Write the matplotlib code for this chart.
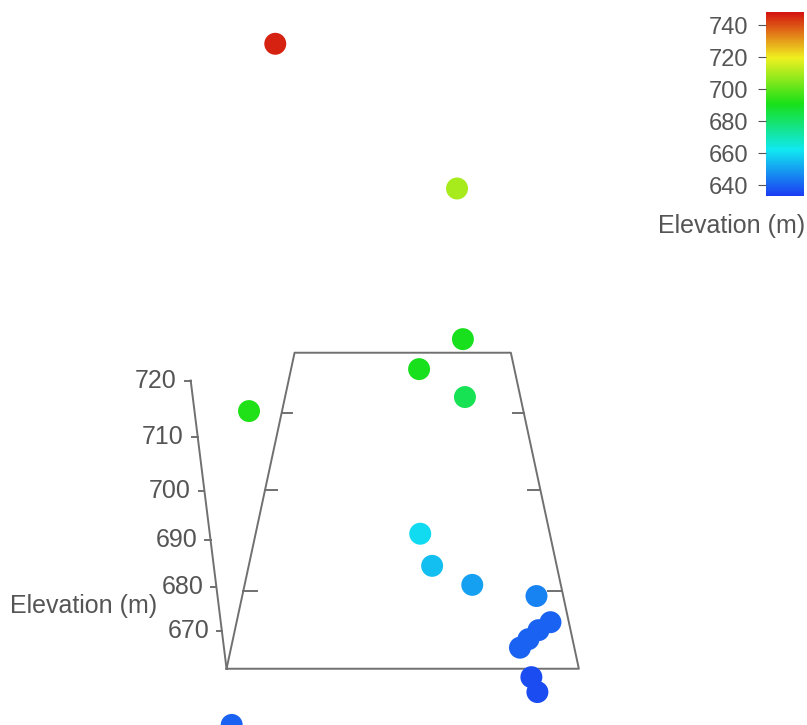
import matplotlib
matplotlib.use("Agg")
import matplotlib.pyplot as plt
from matplotlib.colors import LinearSegmentedColormap, Normalize
from mpl_toolkits.mplot3d import proj3d

# sample points: local grid position and elevation (m)
EASTING = [-1.1, 65.7, 64.9, 50.1, 64.7, 1.6, 50.4, 54.0, 66.5, 87.2,
           91.6, 87.4, 83.8, 80.8, 83.9, 85.0, -2.6]
NORTHING = [158.8, 151.0, 78.0, 56.6, 56.5, 25.6, 28.4, 21.6, 21.1, 24.1,
            19.9, 16.3, 12.3, 8.6, 2.0, -4.0, -21.6]
ELEVATION = [746, 710, 690, 690, 683, 692, 660, 655, 650, 645,
             640, 640, 640, 640, 636, 636, 640]

Z_TICKS = [670, 680, 690, 700, 710, 720]
CBAR_TICKS = [640, 660, 680, 700, 720, 740]
FLOOR_TICKS = [0, 50, 100]

XLIM = (0, 90)
YLIM = (-30, 150)
ZLIM = (661, 700.5)
CLIM = (633.3, 748.3)

GRAY = "#707070"
TEXT = "#555555"

plt.rcParams["font.family"] = ["Liberation Sans", "DejaVu Sans"]

cmap = LinearSegmentedColormap.from_list(
    "elev", ["#1c3cf2", "#10e8f0", "#18e018", "#f0f020", "#d41010"])
norm = Normalize(*CLIM)

fig = plt.figure(figsize=(8.07, 7.25), dpi=100)
side = 626.3
ax = fig.add_axes([81.1 / 807, (725 - 722.0) / 725, side / 807, side / 725],
                  projection="3d")
ax.set_xlim(XLIM)
ax.set_ylim(YLIM)
ax.set_zlim(ZLIM)
ax.set_box_aspect((0.502, 0.9935, 0.313))
ax.view_init(elev=29.75, azim=-90)
ax.set_proj_type("persp", focal_length=0.2843)
ax.set_axis_off()

x0, x1 = XLIM
y0, y1 = YLIM
z0 = ZLIM[0]
line_kw = dict(color=GRAY, lw=1.4, clip_on=False)

# floor frame with inward ticks
ax.plot([x0, x1, x1, x0, x0], [y0, y0, y1, y1, y0], [z0] * 5, **line_kw)
for t in FLOOR_TICKS:
    ax.plot([x0, x0 + 4], [t, t], [z0, z0], **line_kw)
    ax.plot([x1, x1 - 4], [t, t], [z0, z0], **line_kw)

# elevation axis at the front-left corner
ax.plot([x0, x0], [y0, y0], [z0, Z_TICKS[-1]], **line_kw)
proj = ax.get_proj()
for z in Z_TICKS:
    ax.plot([x0 - 1.2, x0], [y0, y0], [z, z], **line_kw)
    # place the label at the projected spot as plain 2D text
    px, py, _ = proj3d.proj_transform(x0 - 3.1, y0, z, proj)
    ax.text2D(px, py, str(z), transform=ax.transData, ha="right",
              va="center", fontsize=18, color=TEXT)

sc = ax.scatter(EASTING, NORTHING, ELEVATION, c=ELEVATION, cmap=cmap,
                norm=norm, s=250, depthshade=False, edgecolors="none")
sc.set_clip_on(False)

fig.text(10 / 807, 1 - 606 / 725, "Elevation (m)", ha="left", va="center",
         fontsize=18, color=TEXT)

cax = fig.add_axes([766 / 807, 1 - 196 / 725, 38 / 807, 184.3 / 725])
cb = fig.colorbar(sc, cax=cax, ticks=CBAR_TICKS)
cb.outline.set_visible(False)
cax.yaxis.set_ticks_position("left")
cax.tick_params(labelsize=17, colors=TEXT, length=6, pad=7)
fig.text(805 / 807, 1 - 226 / 725, "Elevation (m)", ha="right", va="center",
         fontsize=18, color=TEXT)

fig.savefig("out.png", dpi=100)
